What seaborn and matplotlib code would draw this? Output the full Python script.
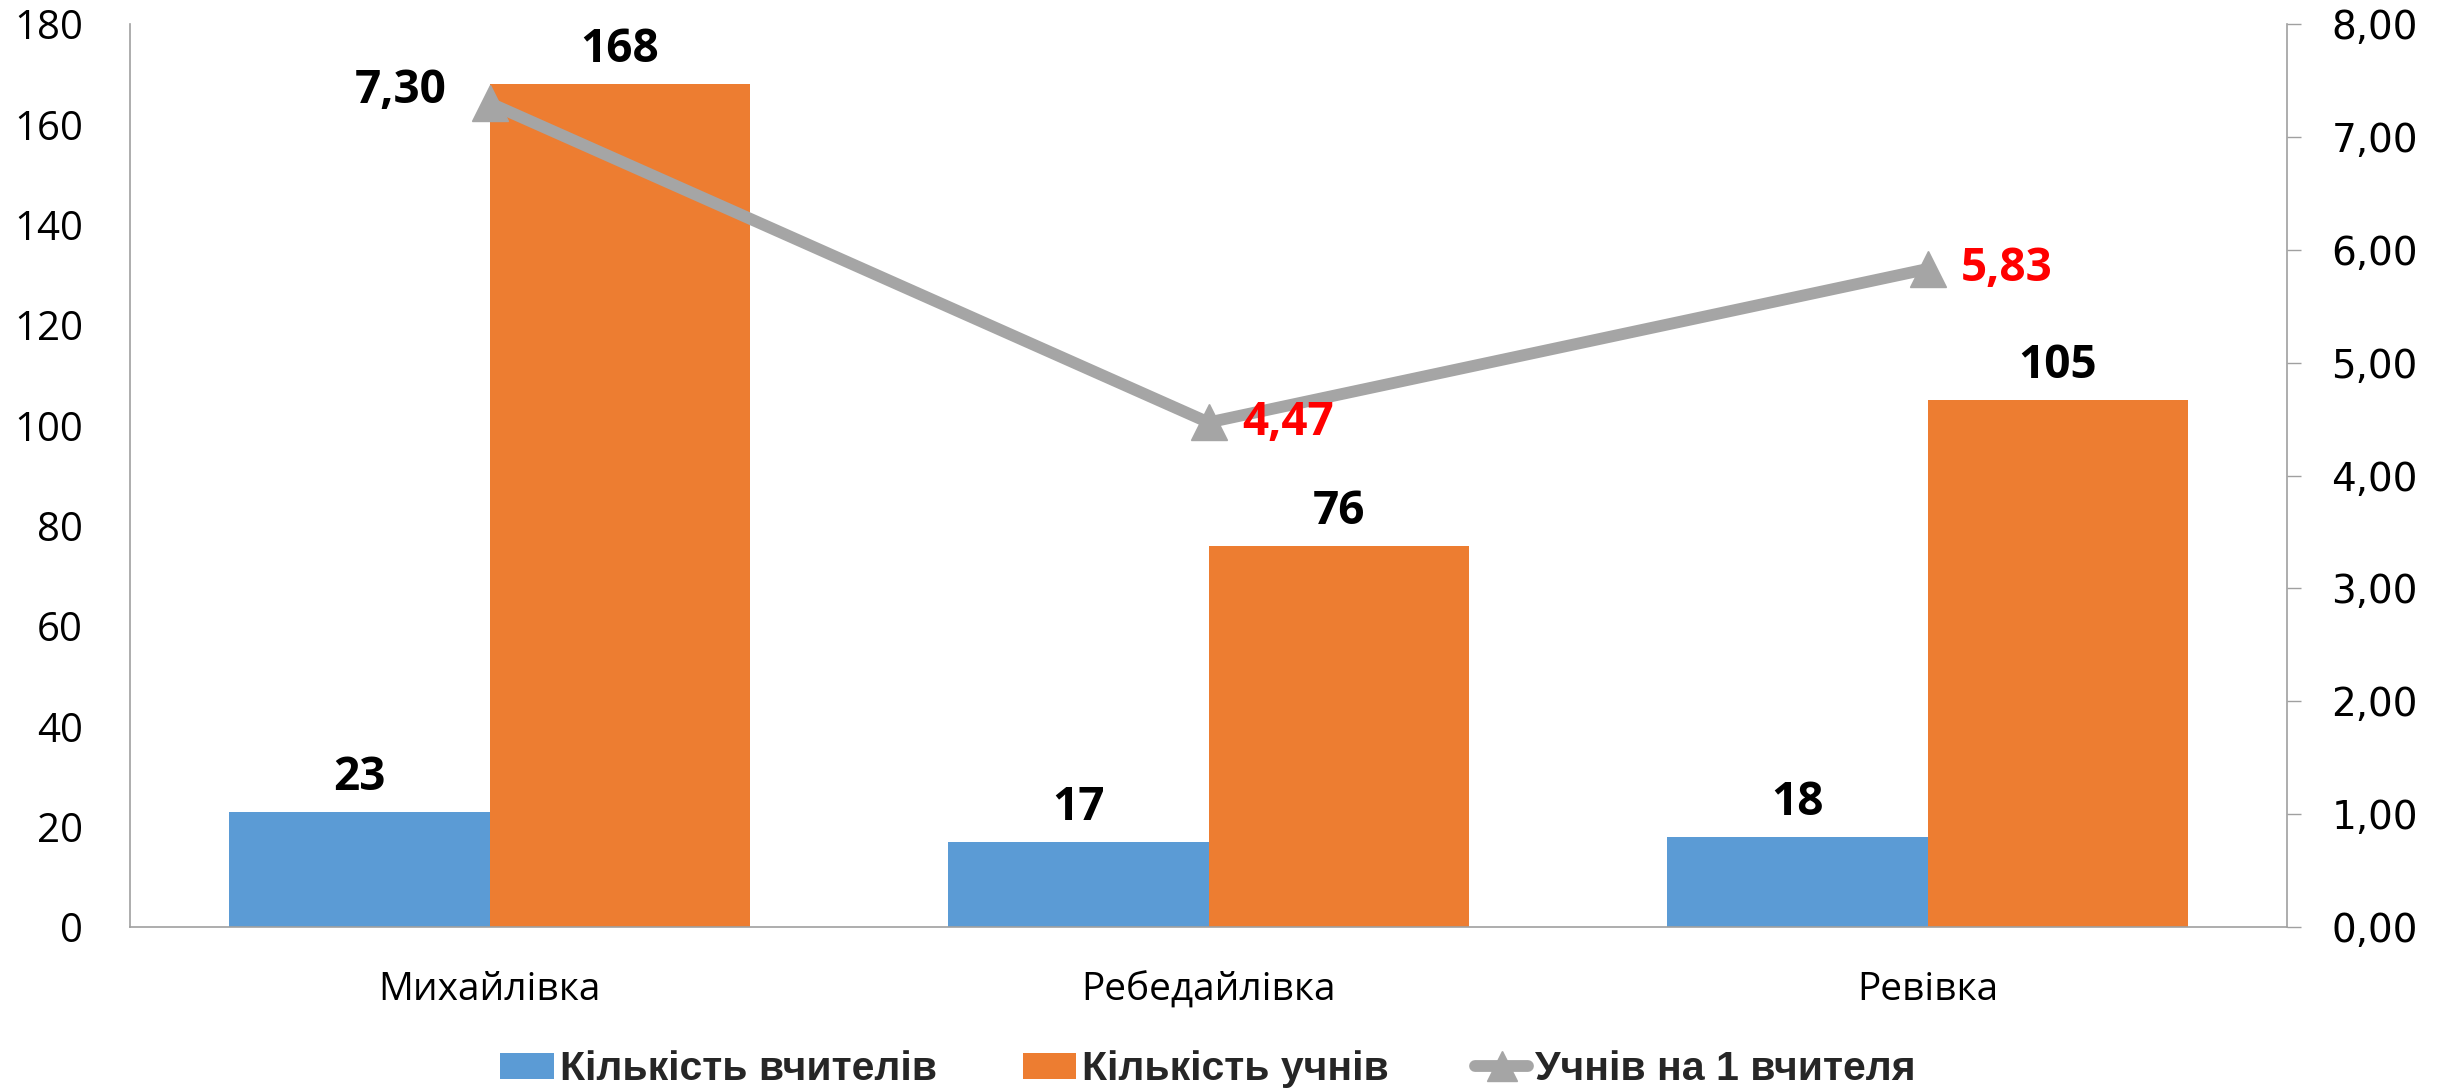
import matplotlib
matplotlib.use("Agg")
import matplotlib.pyplot as plt
from matplotlib.patches import Patch
from matplotlib.lines import Line2D
import numpy as np
import pandas as pd
import seaborn as sns

# data
villages = ["Михайлівка", "Ребедайлівка", "Ревівка"]
teachers = [23, 17, 18]
students = [168, 76, 105]
ratio = [7.30, 4.47, 5.83]

s_teachers = "Кількість вчителів"
s_students = "Кількість учнів"
s_ratio = "Учнів на 1 вчителя"

colors = {s_teachers: "#5B9BD5", s_students: "#ED7D31"}
line_color = "#A5A5A5"
spine_color = "#A0A0A0"

df = pd.DataFrame({
    "village": villages * 2,
    "series": [s_teachers] * len(villages) + [s_students] * len(villages),
    "value": teachers + students,
})

sns.set_theme(style="white")
plt.rcParams["font.family"] = ["Open Sans", "DejaVu Sans"]

fig = plt.figure(figsize=(24.45, 10.92), dpi=100)
ax = fig.add_axes([0.0532, 0.1511, 0.8822, 0.8269])

sns.barplot(
    data=df, x="village", y="value", hue="series",
    palette=colors, saturation=1, width=0.725,
    linewidth=0, legend=False, ax=ax,
)
ax.set_xlim(-0.5, len(villages) - 0.5)
ax.set_ylim(0, 180)
ax.set_yticks(np.arange(0, 181, 20))
ax.set_xlabel("")
ax.set_ylabel("")

for cont in ax.containers:
    ax.bar_label(cont, padding=8, fontsize=33, fontweight="bold",
                 color="black", fontfamily="Open Sans")

for side in ["top", "right"]:
    ax.spines[side].set_visible(False)
for side in ["left", "bottom"]:
    ax.spines[side].set_color(spine_color)
    ax.spines[side].set_linewidth(1.2)
ax.tick_params(axis="y", length=0, pad=34, labelsize=29, labelcolor="black")
ax.tick_params(axis="x", length=0, pad=32, labelsize=28, labelcolor="black")

# secondary axis with the ratio line
ax2 = ax.twinx()
x = np.arange(len(villages))
ax2.plot(x, ratio, color=line_color, lw=8.5, marker="^", markersize=26,
         solid_joinstyle="round", solid_capstyle="round", zorder=3)
ax2.set_ylim(0, 8)
ax2.set_yticks(np.arange(0, 9, 1))
ax2.set_yticklabels([f"{v:.2f}".replace(".", ",") for v in np.arange(0, 9, 1)],
                    fontfamily="DejaVu Sans")
ax2.tick_params(axis="y", length=10, width=1, color=spine_color, pad=22,
                labelsize=28, labelcolor="black")
for side in ["top", "left", "bottom"]:
    ax2.spines[side].set_visible(False)
ax2.spines["right"].set_color(spine_color)
ax2.spines["right"].set_linewidth(1.2)
ax2.grid(False)

labels = [f"{v:.2f}".replace(".", ",") for v in ratio]
ax2.annotate(labels[0], (x[0], ratio[0]), xytext=(-31, 9), textcoords="offset points",
             ha="right", va="center", fontsize=33, fontweight="bold", color="black")
for i in range(1, len(ratio)):
    ax2.annotate(labels[i], (x[i], ratio[i]), xytext=(24, 0), textcoords="offset points",
                 ha="left", va="center", fontsize=33, fontweight="bold", color="#FF0000")

handles = [
    Patch(facecolor=colors[s_teachers], edgecolor="none"),
    Patch(facecolor=colors[s_students], edgecolor="none"),
    Line2D([0], [0], color=line_color, lw=8.5, marker="^", markersize=22,
           solid_capstyle="round"),
]
fig.legend(handles, [s_teachers, s_students, s_ratio],
           loc="center", bbox_to_anchor=(0.494, 0.021), ncol=3, frameon=False,
           prop={"family": "Liberation Sans", "weight": "bold", "size": 29.5},
           handlelength=1.3, handleheight=0.6, handletextpad=0.15,
           columnspacing=2.1, borderpad=0)

fig.savefig("out.png", dpi=100)
